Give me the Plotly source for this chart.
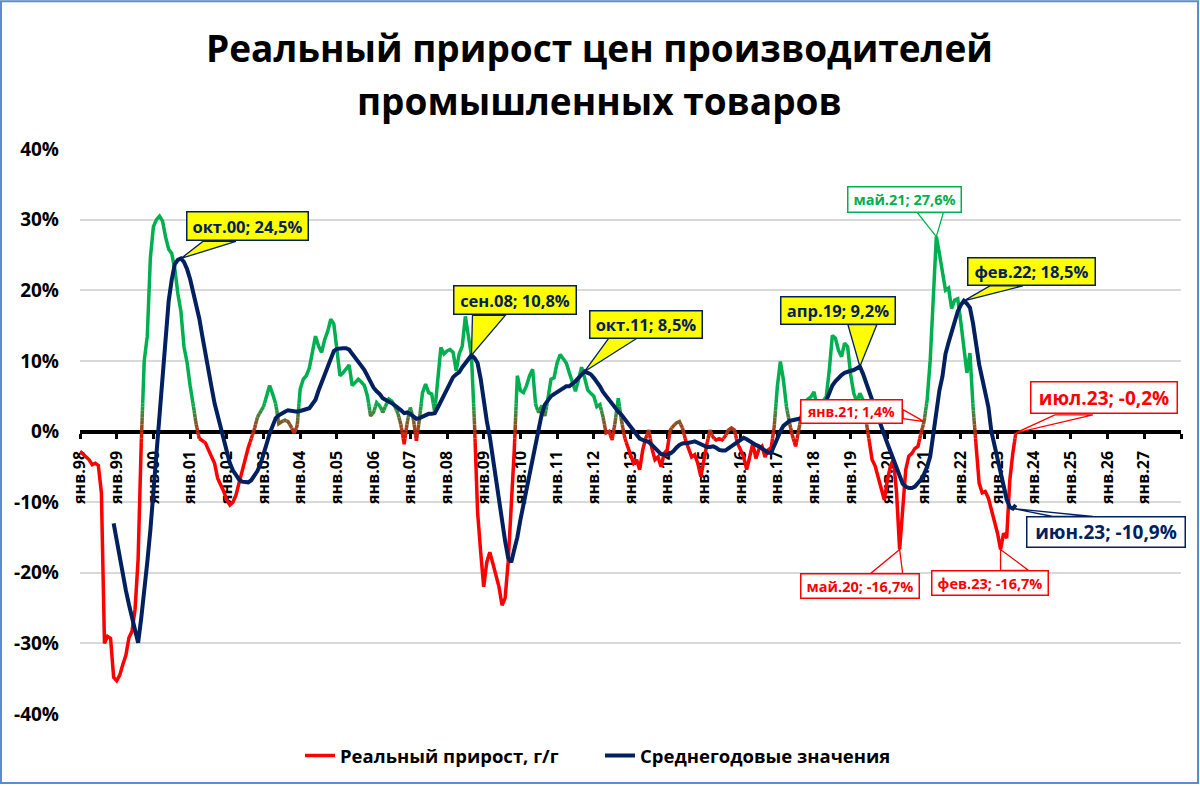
import plotly.graph_objects as go

# ---------------- DATA ----------------
# Real growth of industrial producer prices, % y/y, monthly from Jan 1998
real_growth = [
    -2.8, -3.2, -3.6, -4.0, -4.7, -4.5, -4.8, -8.7, -30.0, -29.0, -29.3, -34.8,      # 1998
    -35.3, -34.5, -33.0, -31.7, -29.2, -28.3, -25.2, -18.1, -2.0, 10.0, 13.5, 24.5,  # 1999
    29.0, 30.0, 30.5, 29.8, 27.5, 25.8, 25.2, 23.0, 19.5, 17.0, 12.0, 9.8,           # 2000
    6.5, 3.8, 1.0, -1.0, -1.3, -1.6, -2.6, -3.5, -4.5, -6.6, -7.5, -8.5,             # 2001
    -9.7, -10.4, -10.0, -9.0, -7.3, -5.5, -4.0, -2.3, -1.0, 0.3, 2.0, 2.8,           # 2002
    3.5, 5.0, 6.5, 5.3, 3.9, 1.1, 1.4, 1.6, 1.4, 0.7, -0.2, 0.7,                     # 2003
    6.0, 7.4, 7.9, 9.0, 11.5, 13.5, 12.1, 11.2, 13.0, 14.2, 15.9, 15.2,              # 2004
    11.6, 7.9, 8.3, 8.8, 9.4, 6.5, 6.9, 7.4, 7.0, 6.5, 5.0, 2.2,                     # 2005
    2.7, 4.1, 3.7, 2.7, 3.7, 4.6, 4.3, 3.5, 2.5, 0.8, -1.8, 1.3,                     # 2006
    3.4, 1.8, -1.3, 1.8, 5.5, 6.7, 5.5, 5.3, 2.7, 7.9, 11.9, 11.0,                   # 2007
    11.4, 11.6, 11.2, 8.6, 11.0, 12.1, 16.3, 13.5, 10.7, 1.0, -11.4, -17.0,          # 2008
    -22.0, -18.5, -17.1, -18.7, -20.5, -22.0, -24.6, -23.6, -18.5, -11.4, -2.6, 7.9, # 2009
    5.8, 5.5, 6.5, 7.9, 8.8, 3.7, 2.7, 3.7, 2.2, 4.6, 7.4, 7.6,                      # 2010
    9.7, 10.9, 10.2, 9.7, 8.3, 7.0, 5.7, 7.3, 9.1, 7.6, 5.9, 5.4,                    # 2011
    5.0, 3.5, 3.8, 2.1, -0.2, 0.0, -1.2, 1.4, 4.7, 1.7, -0.7, -2.1,                  # 2012
    -3.1, -4.5, -4.0, -5.4, -2.6, -0.9, 0.2, -2.4, -4.0, -3.6, -5.0, -3.1,           # 2013
    -2.6, 0.2, 0.8, 1.2, 1.4, 0.5, -1.2, -2.6, -3.6, -3.3, -4.5, -6.4,               # 2014
    -4.0, -1.7, 0.2, -0.9, -1.2, -1.0, -1.2, -0.7, 0.2, 0.5, 0.2, -1.7,              # 2015
    -2.6, -3.6, -5.4, -3.6, -1.7, -3.8, -2.5, -2.1, -3.6, -2.6, -2.3, 0.7,           # 2016
    6.3, 9.9, 7.3, 3.5, 1.2, -0.7, -2.1, 0.2, 2.6, 4.2, 4.6, 4.9,                    # 2017
    5.6, 3.5, 3.8, 4.3, 4.9, 8.7, 13.6, 13.2, 11.5, 10.6, 12.5, 12.0,                # 2018
    8.0, 5.4, 4.2, 5.4, 4.5, 1.6, -1.2, -4.0, -4.9, -6.5, -7.8, -9.7,                # 2019
    -6.8, -4.9, -4.0, -8.7, -16.7, -11.1, -5.4, -3.5, -3.1, -2.4, -2.1, -0.2,        # 2020
    1.4, 4.5, 10.1, 18.1, 27.6, 25.2, 22.4, 20.0, 20.3, 17.4, 18.6, 18.8,            # 2021
    15.5, 12.0, 8.3, 11.1, 3.5, -2.0, -7.3, -8.7, -8.5, -9.4, -11.1, -12.5,          # 2022
    -14.4, -16.7, -14.4, -15.1, -7.0, -3.1, -0.2,                                    # 2023
]
real_start_month = 0          # Jan 1998 = month 0

# Annual (12-month average) values, %, monthly from Dec 1998
avg_values = [
    -13.0,                                                                           # 1998-12
    -15.5, -17.5, -20.0, -22.5, -24.5, -26.5, -28.3, -29.9, -26.5, -23.0, -18.5, -14.0,  # 1999
    -8.5, -3.0, 3.0, 8.5, 13.8, 18.5, 21.5, 23.7, 24.3, 24.5, 24.0, 23.0,            # 2000
    21.6, 19.9, 18.1, 16.0, 13.5, 10.9, 8.5, 6.3, 4.0, 2.3, 0.3, -1.5,               # 2001
    -3.0, -4.5, -5.5, -6.3, -6.8, -7.1, -7.2, -7.2, -6.9, -6.3, -5.6, -4.6,          # 2002
    -3.4, -1.8, -0.3, 1.0, 1.9, 2.3, 2.6, 2.8, 3.0, 2.9, 2.8, 2.8,                   # 2003
    2.9, 3.0, 3.1, 3.3, 3.9, 4.5, 5.8, 6.9, 7.8, 9.0, 10.3, 11.4,                    # 2004
    11.7, 11.8, 11.8, 11.8, 11.6, 11.0, 10.5, 10.0, 9.3, 8.7, 7.8, 7.0,              # 2005
    6.2, 5.7, 5.3, 4.7, 4.4, 4.2, 4.0, 3.7, 3.4, 3.0, 2.6, 2.7,                      # 2006
    2.5, 2.2, 1.8, 1.9, 2.1, 2.4, 2.5, 2.5, 2.6, 3.4, 4.3, 5.1,                      # 2007
    6.1, 6.9, 7.7, 8.1, 8.4, 9.1, 9.6, 10.2, 10.8, 10.4, 9.7, 7.5,                   # 2008
    4.3, 1.5, -0.8, -3.8, -7.0, -10.0, -13.3, -15.5, -17.9, -18.5, -16.7, -15.0,     # 2009
    -12.5, -10.4, -8.1, -5.8, -4.2, -2.0, 0.0, 2.5, 3.8, 4.5, 5.0, 5.3,              # 2010
    5.6, 5.9, 6.2, 6.4, 6.4, 6.7, 7.1, 7.6, 8.0, 8.5, 8.3, 8.1,                      # 2011
    7.6, 7.1, 6.4, 5.6, 5.0, 4.4, 3.8, 3.3, 2.8, 2.4, 1.8, 1.3,                      # 2012
    0.7, 0.1, -0.5, -1.0, -1.2, -1.3, -1.5, -1.9, -2.4, -2.8, -3.2, -3.3,            # 2013
    -3.3, -3.1, -2.8, -2.3, -1.9, -1.7, -1.7, -1.6, -1.5, -1.4, -1.6, -1.8,          # 2014
    -2.0, -2.2, -2.2, -2.1, -2.3, -2.6, -2.7, -2.7, -2.4, -2.1, -1.7, -1.4,          # 2015
    -1.1, -0.9, -1.1, -1.4, -1.6, -1.9, -2.1, -2.4, -2.7, -3.0, -3.0, -2.0,          # 2016
    -0.8, 0.0, 0.8, 1.2, 1.5, 1.6, 1.7, 1.7, 1.8, 1.9, 2.0, 2.2,                     # 2017
    2.3, 2.5, 2.8, 3.3, 4.3, 5.5, 6.5, 7.1, 7.6, 8.0, 8.3, 8.5,                      # 2018
    8.6, 8.7, 8.9, 9.2, 8.2, 6.9, 5.7, 4.5, 3.2, 2.0, 0.7, -0.5,                     # 2019
    -1.7, -2.8, -4.0, -5.2, -6.4, -7.4, -7.8, -8.0, -8.0, -7.8, -7.3, -6.8,          # 2020
    -6.0, -5.0, -3.5, -0.2, 3.5, 5.8, 7.8, 11.0, 12.6, 14.2, 15.6, 17.0,             # 2021
    17.9, 18.5, 18.1, 17.5, 15.3, 12.0, 9.5, 7.5, 5.5, 3.5, 0.0, -2.0,               # 2022
    -4.0, -6.0, -7.8, -9.6, -10.7, -10.9, -10.4,                                     # 2023
]
avg_start_month = 11          # Dec 1998

month_names = ["янв", "фев", "мар", "апр", "май", "июн",
               "июл", "авг", "сен", "окт", "ноя", "дек"]
tick_labels = ["янв.98", "янв.99", "янв.00", "янв.01", "янв.02", "янв.03",
               "янв.04", "янв.05", "янв.06", "янв.07", "янв.08", "янв.09",
               "янв.10", "янв.11", "янв.12", "янв.13", "янв.14", "янв.15",
               "янв.16", "янв.17", "янв.18", "янв.19", "янв.20", "янв.21",
               "янв.22", "янв.23", "янв.24", "янв.25", "янв.26", "янв.27"]
y_ticks = [-40, -30, -20, -10, 0, 10, 20, 30, 40]
y_tick_labels = ["-40%", "-30%", "-20%", "-10%", "0%", "10%", "20%", "30%", "40%"]

# data points that are labelled (series, month index)
labelled_points = [
    ("avg", 33), ("avg", 128), ("avg", 165), ("avg", 255), ("avg", 289),
    ("real", 280), ("real", 276), ("real", 306), ("avg", 305),
    ("real", 268), ("real", 301),
]

# ---------------- STYLE ----------------
FONT = "Open Sans"
NAVY = "#002060"
RED = "#FF0000"
GREEN = "#00B050"
YELLOW = "#FFFF00"
GRID = "#D9D9D9"

real_x = [real_start_month + i for i in range(len(real_growth))]
avg_x = [avg_start_month + i for i in range(len(avg_values))]


def value_at(series, m):
    if series == "real":
        return real_growth[m - real_start_month]
    return avg_values[m - avg_start_month]


def label_for(m, v):
    txt = f"{v:.1f}".replace(".", ",")
    return f"{month_names[m % 12]}.{(1998 + m // 12) % 100:02d}; {txt}%"


# ---- colour gradient (red below zero -> green above zero) ----
LO, HI, NB = -1.5, 4.0, 11
edges = [LO + i * (HI - LO) / NB for i in range(NB + 1)]
c_red = (255, 0, 0)
c_green = (0, 176, 80)


def band_color(k):
    if k == 0:
        t = 0.0
    elif k == NB + 1:
        t = 1.0
    else:
        t = (k - 0.5) / NB
    return "rgb(%d,%d,%d)" % tuple(round(a + (b - a) * t) for a, b in zip(c_red, c_green))


def band_of(v):
    for i, e in enumerate(edges):
        if v < e:
            return i
    return len(edges)


pts = []
for i in range(len(real_x) - 1):
    x0, y0, x1, y1 = real_x[i], real_growth[i], real_x[i + 1], real_growth[i + 1]
    pts.append((x0, y0))
    cross = []
    for e in edges:
        if (y0 - e) * (y1 - e) < 0:
            s = (e - y0) / (y1 - y0)
            cross.append((s, x0 + s * (x1 - x0), e))
    cross.sort()
    pts.extend((cx, cy) for _, cx, cy in cross)
pts.append((real_x[-1], real_growth[-1]))

band_xs = {k: [] for k in range(NB + 2)}
band_ys = {k: [] for k in range(NB + 2)}
band_last = {k: None for k in range(NB + 2)}
for j in range(len(pts) - 1):
    a, b = pts[j], pts[j + 1]
    k = band_of((a[1] + b[1]) / 2)
    if band_last[k] == j:
        band_xs[k].append(b[0]); band_ys[k].append(b[1])
    else:
        if band_xs[k]:
            band_xs[k].append(None); band_ys[k].append(None)
        band_xs[k] += [a[0], b[0]]; band_ys[k] += [a[1], b[1]]
    band_last[k] = j + 1

fig = go.Figure()
for k in range(NB + 2):
    fig.add_trace(go.Scatter(
        x=band_xs[k] if band_xs[k] else [None], y=band_ys[k] if band_ys[k] else [None],
        mode="lines", line=dict(color=band_color(k), width=3.5),
        name="Реальный прирост, г/г", showlegend=(k == 0),
        legendgroup="real", hoverinfo="skip"))

fig.add_trace(go.Scatter(
    x=avg_x, y=avg_values, mode="lines",
    line=dict(color=NAVY, width=4),
    name="Среднегодовые значения", hoverinfo="skip"))

# ---- callouts: (box center offset dx, dy [px, screen], box w, h, font size,
#                 style, wedge base points [px, screen]) ----
styles = {
    "yellow": dict(bg=YELLOW, border=NAVY, color=NAVY),
    "red": dict(bg="white", border=RED, color=RED),
    "green": dict(bg="white", border=GREEN, color=GREEN),
    "navy": dict(bg="white", border=NAVY, color=NAVY),
}
callout_layout = [
    (67, -32, 123, 30, 16.5, "yellow", [(22, -17), (55, -17)]),
    (44, -55, 124, 30, 16.5, "yellow", [(1, -40), (34, -40)]),
    (61, -47, 114, 29, 16.5, "yellow", [(24, -33), (52, -33)]),
    (-22, -56, 116, 29, 16.5, "yellow", [(-12, -42), (17, -42)]),
    (68, -29.5, 129, 29, 16.5, "yellow", [(26, -15), (59, -15)]),
    (-32, -37, 115, 27, 14.5, "green", [(-19, -24), (7, -24)]),
    (-72.5, -10.5, 103, 25, 14, "red", [(-21, -12), (-21, -3)]),
    (88, -35, 148, 33, 19, "red", [(39, -18), (77, -18)]),
    (93, 24, 160, 32, 19, "navy", [(40, 8), (80, 8)]),
    (-39.5, 37, 120, 26, 14.5, "red", [(-29, 24), (3, 24)]),
    (-10.5, 34, 118, 26, 14.5, "red", [(0, 21), (28, 21)]),
]

shapes = []
annotations = []
for (series, m), (dx, dy, w, h, fs, st, wedge) in zip(labelled_points, callout_layout):
    v = value_at(series, m)
    s = styles[st]
    (ax1, ay1), (ax2, ay2) = wedge
    shapes.append(dict(
        type="path", xref="x", yref="y", xsizemode="pixel", ysizemode="pixel",
        xanchor=m, yanchor=v,
        path=f"M 0,0 L {ax1},{-ay1} L {ax2},{-ay2} Z",
        fillcolor=s["bg"], line=dict(color=s["border"], width=1.3), layer="above"))
    annotations.append(dict(
        x=m, y=v, xref="x", yref="y", text=label_for(m, v), showarrow=False,
        xanchor="center", yanchor="middle", xshift=dx, yshift=-dy,
        width=w - 3, height=h - 3, borderpad=0, borderwidth=1.5,
        bgcolor=s["bg"], bordercolor=s["border"],
        font=dict(family=FONT, size=fs, color=s["color"], weight="bold")))

# title (two lines)
annotations.append(dict(text="Реальный прирост цен производителей", xref="paper", yref="paper",
                        x=0.4722, y=1.1802, xanchor="center", yanchor="middle", showarrow=False,
                        font=dict(family=FONT, size=37, color="black", weight="bold")))
annotations.append(dict(text="промышленных товаров", xref="paper", yref="paper",
                        x=0.4722, y=1.0866, xanchor="center", yanchor="middle", showarrow=False,
                        font=dict(family=FONT, size=37, color="black", weight="bold")))

# outer chart border
shapes.append(dict(type="rect", xref="paper", yref="paper",
                   x0=-79 / 1101, x1=1118 / 1101, y0=-69 / 566, y1=714 / 566,
                   line=dict(color="#5B8BD0", width=2), fillcolor="rgba(0,0,0,0)", layer="below"))

fig.update_layout(
    width=1200, height=786,
    margin=dict(l=80, r=19, t=149, b=71),
    paper_bgcolor="white", plot_bgcolor="white",
    showlegend=True,
    legend=dict(orientation="h", x=(300 - 80) / 1101, xanchor="left", y=-0.0724, yanchor="middle",
                font=dict(family=FONT, size=18.5, color="black", weight="bold"),
                bgcolor="rgba(0,0,0,0)", traceorder="normal", itemwidth=30,
                entrywidth=255, entrywidthmode="pixels"),
    xaxis=dict(range=[0, 360], anchor="free", position=0.5,
               tickvals=[12 * i for i in range(len(tick_labels))] + [360],
               ticktext=tick_labels + [""],
               tickangle=-90, ticks="outside", ticklen=5, tickwidth=3, tickcolor="black",
               ticklabelstandoff=6,
               tickfont=dict(family=FONT, size=16, color="black", weight="bold"),
               showline=True, linecolor="black", linewidth=4,
               showgrid=False, zeroline=False, layer="below traces"),
    yaxis=dict(range=[-40, 40], tickvals=y_ticks, ticktext=y_tick_labels,
               showgrid=True, gridcolor=GRID, gridwidth=1.5,
               zeroline=False, showline=False, ticks="", ticklabelstandoff=20,
               tickfont=dict(family=FONT, size=19, color="black", weight="bold")),
    shapes=shapes,
    annotations=annotations,
)

fig.write_html("out.html")
